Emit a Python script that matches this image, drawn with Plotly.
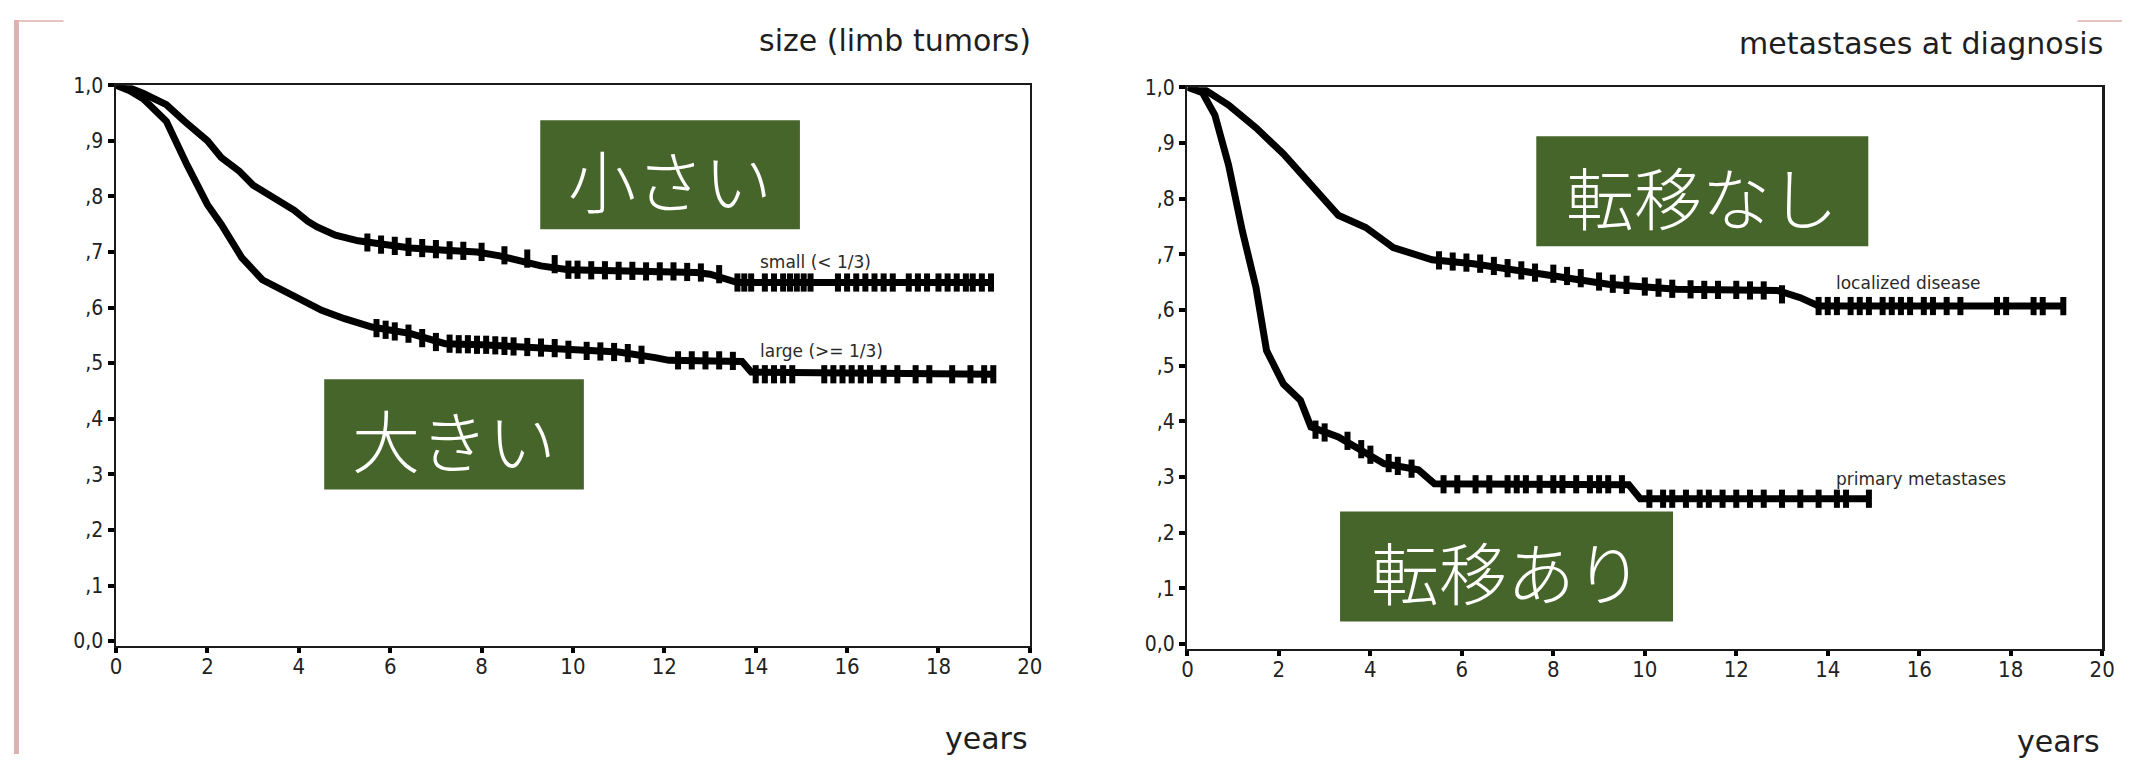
import plotly.graph_objects as go

# page is 2143x770; the html body keeps an 8px margin, so the figure is 16px smaller
PAGE_W, PAGE_H, OFF = 2143, 770, 8
W, H = PAGE_W - 2 * OFF, PAGE_H - 2 * OFF
# measured vertical placement of the figure inside the final picture
Y0_SHOT, Y_SCALE = 14.1, 0.9728

# ---------------- data ----------------
# Left panel: size (limb tumors)
small_t = [0, 0.3, 0.6, 1.1, 1.5, 2.0, 2.3, 2.7, 3.0, 3.5, 3.9, 4.2, 4.4, 4.8, 5.3, 6.0, 6.45,
           7.2, 7.9, 8.4, 8.8, 9.3, 9.9, 11.0, 12.0, 12.7, 13.0, 13.6, 19.2]
small_s = [1.0, 0.995, 0.985, 0.965, 0.935, 0.90, 0.87, 0.845, 0.82, 0.795, 0.775, 0.755, 0.745,
           0.73, 0.72, 0.712, 0.707, 0.703, 0.70, 0.693, 0.685, 0.675, 0.668, 0.666, 0.665, 0.663,
           0.66, 0.645, 0.645]
small_cens_t = [5.5, 5.8, 6.1, 6.4, 6.7, 7.0, 7.3, 7.6, 8.0, 8.5, 9.0, 9.6, 9.9, 10.1, 10.4,
                10.7, 11.0, 11.3, 11.6, 11.9, 12.2, 12.5, 12.8, 13.2,
                13.6, 13.75, 13.9, 14.2, 14.4, 14.6, 14.75, 14.9, 15.05, 15.2, 15.8, 16.0, 16.2,
                16.4, 16.6, 16.8, 17.0, 17.35, 17.55, 17.75, 18.0, 18.2, 18.4, 18.6, 18.75, 18.95,
                19.15]
small_cens_s = [0.717, 0.713, 0.711, 0.709, 0.707, 0.705, 0.703, 0.702, 0.70, 0.694, 0.688,
                0.678, 0.668, 0.668, 0.667, 0.667, 0.666, 0.666, 0.665, 0.665, 0.665, 0.664,
                0.663, 0.66,
                0.645, 0.645, 0.645, 0.645, 0.645, 0.645, 0.645, 0.645, 0.645, 0.645, 0.645, 0.645,
                0.645, 0.645, 0.645, 0.645, 0.645, 0.645, 0.645, 0.645, 0.645, 0.645, 0.645, 0.645,
                0.645, 0.645, 0.645]

large_t = [0, 0.3, 0.6, 1.1, 1.55, 2.0, 2.3, 2.75, 3.2, 3.8, 4.5, 5.0, 5.6, 6.45, 7.2, 8.0, 9.4,
           10.0, 11.0, 11.8, 12.1, 13.7, 13.9, 19.2]
large_s = [1.0, 0.99, 0.975, 0.935, 0.857, 0.785, 0.75, 0.69, 0.65, 0.625, 0.595, 0.58, 0.565,
           0.553, 0.535, 0.533, 0.528, 0.523, 0.52, 0.51, 0.505, 0.503, 0.484, 0.48]
large_cens_t = [5.7, 5.9, 6.1, 6.4, 6.7, 7.0, 7.3, 7.5, 7.7, 7.9, 8.1, 8.3, 8.5, 8.7, 9.0, 9.3,
                9.6, 9.9, 10.3, 10.6, 10.9, 11.2, 11.5, 12.3, 12.6, 12.9, 13.2, 13.5,
                14.0, 14.2, 14.4, 14.6, 14.8, 15.5, 15.7, 15.9, 16.1, 16.3, 16.5, 16.8, 17.1,
                17.5, 17.8, 18.3, 18.7, 19.0, 19.2]
large_cens_s = [0.563, 0.56, 0.557, 0.553, 0.545, 0.538, 0.535, 0.534, 0.534, 0.533, 0.533,
                0.532, 0.531, 0.53, 0.529, 0.528, 0.527, 0.524, 0.522, 0.521, 0.52, 0.518,
                0.515, 0.505, 0.505, 0.505, 0.505, 0.504,
                0.48, 0.48, 0.48, 0.48, 0.48, 0.48, 0.48, 0.48, 0.48, 0.48, 0.48, 0.48, 0.48,
                0.48, 0.48, 0.48, 0.48, 0.48, 0.48]

# Right panel: metastases at diagnosis
loc_t = [0, 0.33, 0.9, 1.5, 2.1, 2.7, 3.3, 3.9, 4.5, 5.35, 6.25, 7.7, 9.2, 10.7, 12.9, 13.4,
         13.8, 19.15]
loc_s = [1.0, 0.998, 0.968, 0.927, 0.88, 0.825, 0.77, 0.748, 0.712, 0.69, 0.683, 0.665, 0.646,
         0.637, 0.635, 0.622, 0.607, 0.607]
loc_cens_t = [5.5, 5.8, 6.1, 6.4, 6.7, 7.0, 7.3, 7.6, 8.0, 8.3, 8.6, 9.0, 9.3, 9.6, 10.0, 10.3,
              10.6, 11.0, 11.3, 11.6, 12.0, 12.3, 12.6, 13.0, 13.8, 14.0, 14.2, 14.5, 14.7,
              14.9, 15.2, 15.4, 15.6, 15.8, 16.1, 16.3, 16.6, 16.9, 17.7, 17.9, 18.5, 18.7, 19.15]
loc_cens_s = [0.689, 0.687, 0.685, 0.683, 0.679, 0.675, 0.671, 0.667, 0.665, 0.661, 0.657,
              0.651, 0.647, 0.645, 0.642, 0.64, 0.638, 0.637, 0.636, 0.636, 0.636, 0.635,
              0.635, 0.628, 0.607, 0.607, 0.607, 0.607, 0.607, 0.607, 0.607, 0.607, 0.607,
              0.607, 0.607, 0.607, 0.607, 0.607, 0.607, 0.607, 0.607, 0.607, 0.607]

met_t = [0, 0.33, 0.6, 0.9, 1.2, 1.5, 1.73, 2.1, 2.47, 2.7, 3.3, 3.9, 4.3, 5.05, 5.4, 9.65,
         9.9, 14.9]
met_s = [1.0, 0.99, 0.95, 0.86, 0.742, 0.64, 0.527, 0.467, 0.438, 0.39, 0.372, 0.342, 0.324,
         0.313, 0.288, 0.286, 0.261, 0.261]
met_cens_t = [2.8, 3.0, 3.5, 3.8, 4.0, 4.4, 4.6, 4.9, 5.6, 5.9, 6.3, 6.6, 7.0, 7.2, 7.4, 7.7,
              8.0, 8.2, 8.5, 8.8, 9.0, 9.2, 9.5, 10.1, 10.4, 10.6, 10.9, 11.2, 11.4, 11.7, 12.0,
              12.3, 12.6, 13.0, 13.4, 13.8, 14.2, 14.4, 14.9]
met_cens_s = [0.385, 0.38, 0.365, 0.35, 0.34, 0.325, 0.32, 0.315, 0.287, 0.287, 0.287, 0.287,
              0.287, 0.287, 0.287, 0.287, 0.287, 0.287, 0.287, 0.287, 0.287, 0.287, 0.287,
              0.261, 0.261, 0.261, 0.261, 0.261, 0.261, 0.261, 0.261, 0.261, 0.261, 0.261,
              0.261, 0.261, 0.261, 0.261, 0.261]

x_ticks = [0, 2, 4, 6, 8, 10, 12, 14, 16, 18, 20]
y_ticks = [0.0, 0.1, 0.2, 0.3, 0.4, 0.5, 0.6, 0.7, 0.8, 0.9, 1.0]
y_ticktext = ["0,0", ",1", ",2", ",3", ",4", ",5", ",6", ",7", ",8", ",9", "1,0"]

panel_titles = ["size (limb tumors)", "metastases at diagnosis"]
curve_labels = ["small (< 1/3)", "large (>= 1/3)", "localized disease", "primary metastases"]
jp_labels = ["小さい", "大きい", "転移なし", "転移あり"]

# ---------------- figure ----------------
def px(x):  # picture pixel -> paper fraction
    return (x - OFF) / W

def py(y):
    fig_y = (y - Y0_SHOT) / Y_SCALE - OFF
    return 1 - fig_y / H

fig = go.Figure()

def add_curve(t, s, ct, cs, xa, ya):
    fig.add_trace(go.Scatter(x=t, y=s, mode="lines", xaxis=xa, yaxis=ya,
                             line=dict(color="black", width=7), showlegend=False,
                             hoverinfo="skip"))
    fig.add_trace(go.Scatter(x=ct, y=cs, mode="markers", xaxis=xa, yaxis=ya,
                             marker=dict(symbol="line-ns", size=13,
                                         line=dict(color="black", width=6)),
                             showlegend=False, hoverinfo="skip"))

add_curve(small_t, small_s, small_cens_t, small_cens_s, "x", "y")
add_curve(large_t, large_s, large_cens_t, large_cens_s, "x", "y")
add_curve(loc_t, loc_s, loc_cens_t, loc_cens_s, "x2", "y2")
add_curve(met_t, met_s, met_cens_t, met_cens_s, "x2", "y2")

tickfont = dict(family="Liberation Sans Narrow, DejaVu Sans Condensed, sans-serif",
                size=22, color="#222222")
xcommon = dict(range=[0, 20], tickvals=x_ticks, ticks="outside", ticklen=5, tickwidth=4,
               tickcolor="black", showgrid=False, zeroline=False, showline=True,
               linecolor="#1a1a1a", linewidth=2.5, mirror=True, tickfont=tickfont,
               ticklabelstandoff=-5)
ycommon = dict(range=[-0.008, 1.0], tickvals=y_ticks, ticktext=y_ticktext, ticks="outside",
               ticklen=6, tickwidth=4, tickcolor="black", showgrid=False, zeroline=False,
               showline=True, linecolor="#1a1a1a", linewidth=2.5, mirror=True,
               tickfont=dict(tickfont, size=21))

fig.update_layout(
    width=W, height=H, margin=dict(l=0, r=0, t=0, b=0),
    paper_bgcolor="white", plot_bgcolor="white",
    xaxis=dict(xcommon, domain=[px(111), px(1033)], anchor="y"),
    yaxis=dict(ycommon, domain=[py(647), py(87)], anchor="x"),
    xaxis2=dict(xcommon, domain=[px(1192), px(2115)], anchor="y2"),
    yaxis2=dict(ycommon, domain=[py(650), py(89)], anchor="x2"),
)

shapes = [
    # decorative page edge hints (inside the figure area)
    dict(type="rect", xref="paper", yref="paper", x0=0, x1=px(58), y0=py(24), y1=1,
         fillcolor="#e7c3c4", line_width=0, layer="below"),
    dict(type="rect", xref="paper", yref="paper", x0=px(2090), x1=1, y0=py(24), y1=1,
         fillcolor="#e7c3c4", line_width=0, layer="below"),
    dict(type="rect", xref="paper", yref="paper", x0=0, x1=px(13), y0=0, y1=1,
         fillcolor="#deb0b2", line_width=0, layer="below"),
]

green = "#46652a"
boxes = [(539, 801, 122, 231), (321, 583, 381, 491), (1544, 1879, 138, 248), (1346, 1682, 513, 623)]
annotations = []
for (x0, x1, y0, y1), txt in zip(boxes, jp_labels):
    shapes.append(dict(type="rect", xref="paper", yref="paper", x0=px(x0), x1=px(x1),
                       y0=py(y1), y1=py(y0), fillcolor=green, line_width=0, layer="above"))
    annotations.append(dict(text=txt, xref="paper", yref="paper", x=px((x0 + x1) / 2),
                            y=py((y0 + y1) / 2 + 4), xanchor="center", yanchor="middle",
                            showarrow=False,
                            font=dict(family="Noto Sans CJK JP", size=68, color="white",
                                      weight=300)))

title_font = dict(family="DejaVu Sans, sans-serif", size=30, color="#1e1e1e")
annotations += [
    dict(text=panel_titles[0], xref="paper", yref="paper", x=px(1036), y=py(42),
         xanchor="right", yanchor="middle", showarrow=False, font=title_font),
    dict(text=panel_titles[1], xref="paper", yref="paper", x=px(2118), y=py(45),
         xanchor="right", yanchor="middle", showarrow=False, font=title_font),
    dict(text="years", xref="paper", yref="paper", x=px(1033), y=py(740),
         xanchor="right", yanchor="middle", showarrow=False, font=title_font),
    dict(text="years", xref="paper", yref="paper", x=px(2115), y=py(743),
         xanchor="right", yanchor="middle", showarrow=False, font=title_font),
]
lab_font = dict(family="DejaVu Sans, sans-serif", size=17, color="#2a2a2a")
for txt, (lx, ly) in zip(curve_labels, [(759, 264), (759, 353), (1844, 285), (1844, 481)]):
    annotations.append(dict(text=txt, xref="paper", yref="paper", x=px(lx), y=py(ly),
                            xanchor="left", yanchor="middle", showarrow=False, font=lab_font))

fig.update_layout(shapes=shapes, annotations=annotations)
fig.write_html("out.html", config={"displayModeBar": False, "staticPlot": True})
